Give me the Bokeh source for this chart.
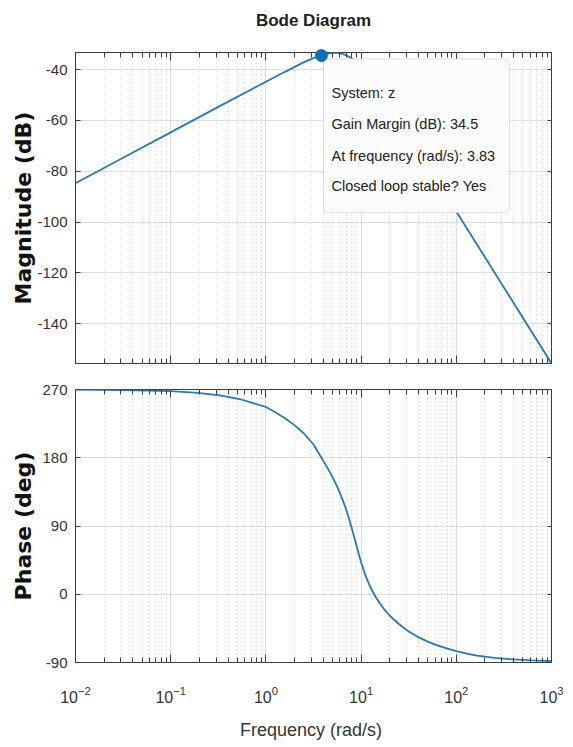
from bokeh.plotting import figure
from bokeh.layouts import column
from bokeh.models import (Range1d, FixedTicker, LogAxis, LinearAxis,
                          BoxAnnotation, Label)
from bokeh.embed import file_html
from bokeh.resources import INLINE

# ---- frequency response of system z ----
mag_freq = [0.01, 0.0316, 0.1, 0.316, 1.0, 1.585, 2.512, 3.162, 3.83, 4.467,
            5.012, 5.623, 6.310, 7.079, 7.943, 8.913, 10.0, 12.59, 15.85, 19.95,
            25.12, 31.62, 39.81, 50.12, 63.10, 79.43, 100.0, 316.2, 1000.0]
mag_db = [-84.7, -74.7, -64.7, -54.7, -44.8, -40.9, -37.1, -35.5, -34.5, -33.7,
          -33.4, -33.4, -33.8, -34.5, -35.6, -37.1, -39.0, -43.5, -48.7, -54.3,
          -60.1, -66.0, -71.9, -77.9, -83.9, -89.9, -95.8, -125.7, -155.6]

phase_freq = [0.01, 0.0316, 0.1, 0.178, 0.316, 0.562, 1.0, 1.259, 1.585, 1.995,
              2.512, 3.162, 3.83, 3.981, 4.467, 5.012, 5.623, 6.310, 7.079, 7.943,
              8.913, 10.0, 11.22, 12.59, 14.13, 15.85, 17.78, 19.95, 22.39, 25.12,
              28.18, 31.62, 39.81, 50.12, 63.10, 79.43, 100.0, 125.9, 158.5, 251.2,
              398.1, 631.0, 1000.0]
phase_deg = [269.8, 269.3, 267.8, 266.0, 262.5, 256.5, 247.0, 240.0, 232.0, 223.0,
             212.0, 197.5, 180.0, 176.5, 166.0, 154.5, 141.5, 126.5, 109.5, 88.0,
             65.0, 42.0, 23.5, 8.5, -3.0, -12.5, -21.0, -28.0, -34.0, -39.5,
             -44.5, -49.0, -56.5, -62.5, -67.5, -71.5, -75.0, -78.0, -80.5, -84.0,
             -86.0, -87.3, -88.2]

freq_ticks = [0.01, 0.1, 1.0, 10.0, 100.0, 1000.0]
mag_ticks = [-140, -120, -100, -80, -60, -40]
phase_ticks = [-90, 0, 90, 180, 270]

# stability margin reported in the data tip
system_name = "z"
gm_db = 34.5
gm_freq = 3.83
closed_loop_stable = "Yes"

# ---- styling ----
LINE_COLOR = "#2a78b2"
AXIS_COLOR = "#3c3c3c"
TEXT_COLOR = "#333333"
GRID_COLOR = "#dcdcdc"
MINOR_GRID_COLOR = "#cbcbcb"
SANS = "Liberation Sans"
BOLD_LABEL = "DejaVu Sans"

minor_freq = [m * f for f in freq_ticks[:-1] for m in range(2, 10)]


def freq_ticker():
    return FixedTicker(ticks=freq_ticks, minor_ticks=minor_freq)


def style_axis(ax, major_in, minor_in, size):
    ax.axis_line_color = None
    ax.major_tick_line_color = AXIS_COLOR
    ax.minor_tick_line_color = AXIS_COLOR
    ax.major_tick_in = major_in
    ax.major_tick_out = 0
    ax.minor_tick_in = minor_in
    ax.minor_tick_out = 0
    ax.major_label_text_font = SANS
    ax.major_label_text_font_size = size
    ax.major_label_text_color = TEXT_COLOR


def hide_labels(ax):
    ax.major_label_text_font_size = "1px"
    ax.major_label_text_alpha = 0.0
    ax.major_label_standoff = 0


def make_panel(y_range, y_ticks, frame_h, top, bottom):
    p = figure(x_axis_type="log", x_range=Range1d(1e-2, 1e3), y_range=y_range,
               frame_width=476, frame_height=frame_h,
               min_border_left=75, min_border_right=22,
               min_border_top=top, min_border_bottom=bottom,
               output_backend="svg", toolbar_location=None)
    p.background_fill_color = "white"
    p.border_fill_color = "white"
    p.outline_line_color = AXIS_COLOR
    p.outline_line_width = 1

    xa = p.below[0]
    ya = p.left[0]
    xa.ticker = freq_ticker()
    ya.ticker = FixedTicker(ticks=y_ticks)
    ya.major_label_overrides = {t: str(t) for t in y_ticks}
    style_axis(xa, 8, 5, "16px")
    style_axis(ya, 5, 0, "15px")
    xa.major_label_standoff = 23
    ya.major_label_standoff = 8

    p.xgrid.grid_line_color = GRID_COLOR
    p.xgrid.minor_grid_line_color = MINOR_GRID_COLOR
    p.xgrid.minor_grid_line_dash = "1 3"
    p.ygrid.grid_line_color = GRID_COLOR

    # box ticks on the top and right edges
    top_ax = LogAxis(ticker=freq_ticker())
    style_axis(top_ax, 8, 5, "1px")
    hide_labels(top_ax)
    p.add_layout(top_ax, "above")
    right_ax = LinearAxis(ticker=FixedTicker(ticks=y_ticks))
    style_axis(right_ax, 4, 0, "1px")
    hide_labels(right_ax)
    p.add_layout(right_ax, "right")

    ya.axis_label_text_font = BOLD_LABEL
    ya.axis_label_text_font_size = "22px"
    ya.axis_label_text_font_style = "bold"
    ya.axis_label_text_color = "#111111"
    return p


# ---- magnitude ----
p1 = make_panel(Range1d(-155.6, -33.3), mag_ticks, 311, 52, 13)
hide_labels(p1.below[0])
p1.left[0].axis_label = "Magnitude (dB)"
p1.left[0].axis_label_standoff = -2

# the heading sits on the top edge axis, centred over the frame
head = p1.above[0]
head.axis_label = "Bode Diagram"
head.axis_label_text_font = SANS
head.axis_label_text_font_size = "17px"
head.axis_label_text_font_style = "bold"
head.axis_label_text_color = "#1e1e1e"
head.axis_label_standoff = 23

p1.line(mag_freq, mag_db, line_color=LINE_COLOR, line_width=1.8)

# data tip for the gain margin
tip_left, tip_right, tip_top, tip_bottom = 4.03, 362.0, -35.8, -96.3
p1.add_layout(BoxAnnotation(left=tip_left, right=tip_right, top=tip_top,
                            bottom=tip_bottom, fill_color="#fbfbfb", fill_alpha=1.0,
                            line_color="#9a9a9a", line_width=1, border_radius=5))
tip_lines = [
    f"System: {system_name}",
    f"Gain Margin (dB): {gm_db}",
    f"At frequency (rad/s): {gm_freq}",
    f"Closed loop stable? {closed_loop_stable}",
]
tip_rows = [-49.2, -61.4, -73.9, -85.7]
for txt, yy in zip(tip_lines, tip_rows):
    p1.add_layout(Label(x=tip_left, y=yy, x_offset=8, text=txt,
                        text_font=SANS, text_font_size="14.5px",
                        text_color="#222222", text_baseline="middle"))

gm_marker = p1.scatter([gm_freq], [-gm_db], size=12, fill_color="#0b6fb8",
                       line_color="#0b6fb8")
gm_marker.level = "overlay"

# ---- phase ----
p2 = make_panel(Range1d(-90, 270), phase_ticks, 273, 13, 85)
p2.left[0].axis_label = "Phase (deg)"
p2.left[0].axis_label_standoff = 3
xa2 = p2.below[0]
xa2.axis_label = "Frequency  (rad/s)"
xa2.axis_label_text_font = SANS
xa2.axis_label_text_font_size = "18px"
xa2.axis_label_text_font_style = "normal"
xa2.axis_label_text_color = TEXT_COLOR
xa2.axis_label_standoff = 14
p2.line(phase_freq, phase_deg, line_color=LINE_COLOR, line_width=1.8)

layout = column(p1, p2, spacing=0)
open("out.html", "w").write(file_html(layout, INLINE))
